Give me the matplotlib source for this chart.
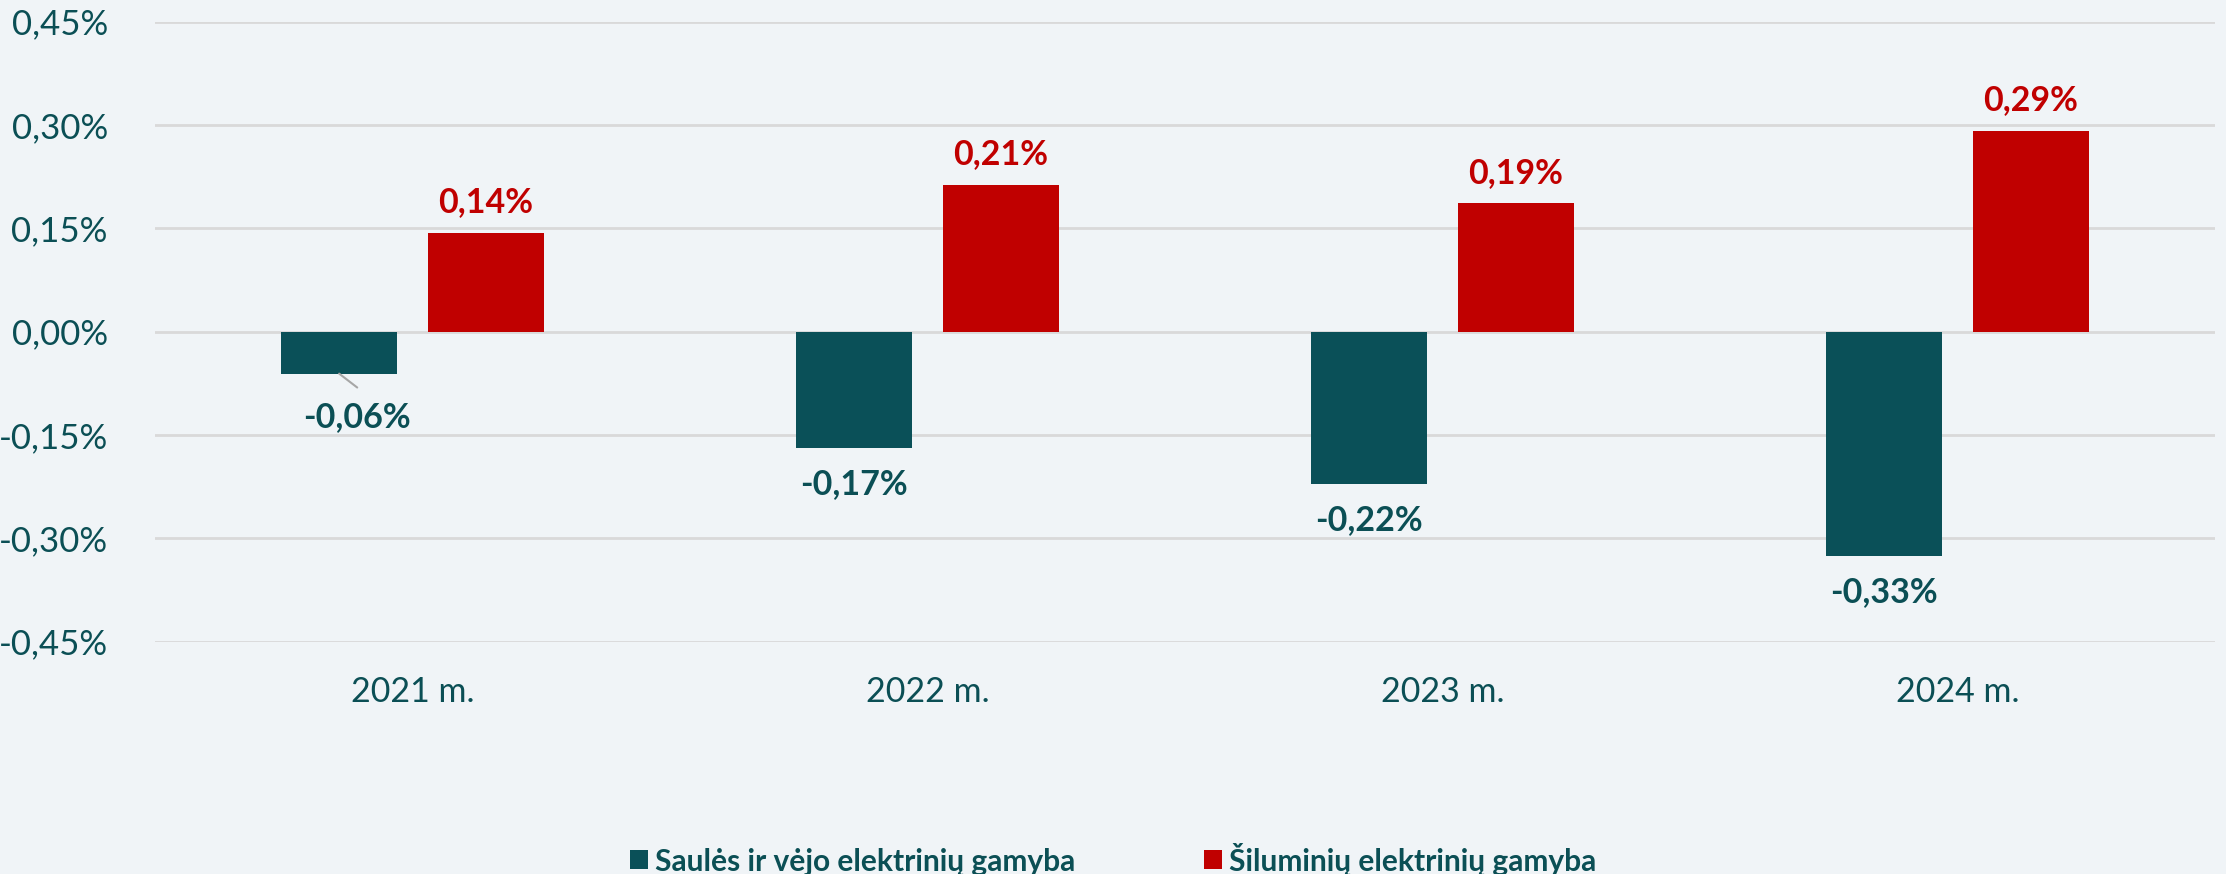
import matplotlib
matplotlib.use("Agg")
import matplotlib.pyplot as plt
import numpy as np

categories = ["2021 m.", "2022 m.", "2023 m.", "2024 m."]
series_names = ["Saulės ir vėjo elektrinių gamyba", "Šiluminių elektrinių gamyba"]
solar_wind = [-0.061, -0.169, -0.221, -0.325]
thermal = [0.143, 0.213, 0.186, 0.291]
ytick_vals = [-0.45, -0.30, -0.15, 0.00, 0.15, 0.30, 0.45]

BG = "#F0F4F7"
TEAL = "#0A5058"
RED = "#C00000"
TXT = "#0B4F55"
GRID = "#D9D9D9"

plt.rcParams['font.family'] = ['Lato', 'DejaVu Sans']

fig = plt.figure(figsize=(22.26, 8.74), dpi=100, facecolor=BG)
ax = fig.add_axes([155/2226, 1-641.7/874, (2215-155)/2226, (641.7-21.5)/874])
ax.set_facecolor(BG)

x = np.arange(len(categories))
w = 0.224
off = 0.1424
b1 = ax.bar(x - off, solar_wind, w, color=TEAL, label=series_names[0], zorder=3)
b2 = ax.bar(x + off, thermal, w, color=RED, label=series_names[1], zorder=3)

ax.set_xlim(-0.5, len(categories) - 0.5)
ax.set_ylim(-0.45, 0.45)
ax.set_yticks(ytick_vals)
ax.set_yticklabels([f"{v:.2f}%".replace(".", ",").replace("-0,00", "0,00") for v in ytick_vals])
ax.yaxis.grid(True, color=GRID, linewidth=2, zorder=0)
ax.set_xticks(x)
ax.set_xticklabels(categories)
ax.tick_params(axis='y', length=0, pad=34, labelsize=25, labelcolor=TXT)
ax.tick_params(axis='x', length=0, pad=25, labelsize=24.5, labelcolor=TXT)
for s in ax.spines.values():
    s.set_visible(False)

def fmt(v):
    return f"{v:.2f}%".replace(".", ",")

for i, v in enumerate(solar_wind):
    if i == 0:
        ax.annotate(fmt(v), xy=(x[i] - off, v), xytext=(13, -31), textcoords='offset points',
                    ha='center', va='center', fontsize=24.5, fontweight='bold', color=TXT,
                    zorder=4)
        ax.annotate("", xy=(x[i] - off, v), xytext=(13, -10), textcoords='offset points',
                    arrowprops=dict(arrowstyle='-', color='#A6A6A6', lw=1.5, shrinkA=0, shrinkB=0))
    else:
        ax.annotate(fmt(v), xy=(x[i] - off, v), xytext=(0, -26), textcoords='offset points',
                    ha='center', va='center', fontsize=24.5, fontweight='bold', color=TXT)
for i, v in enumerate(thermal):
    ax.annotate(fmt(v), xy=(x[i] + off, v), xytext=(0, 22), textcoords='offset points',
                ha='center', va='center', fontsize=24.5, fontweight='bold', color=RED)

leg = fig.legend(handles=[b1, b2], loc='center', bbox_to_anchor=(0.5, 1 - 859/874),
                 ncol=2, frameon=False, fontsize=21.5, handlelength=0.6, handleheight=0.6,
                 handletextpad=0.25, columnspacing=4.3)
for t in leg.get_texts():
    t.set_color(TXT)
    t.set_fontweight('bold')

fig.savefig("out.png", dpi=100, facecolor=BG)
